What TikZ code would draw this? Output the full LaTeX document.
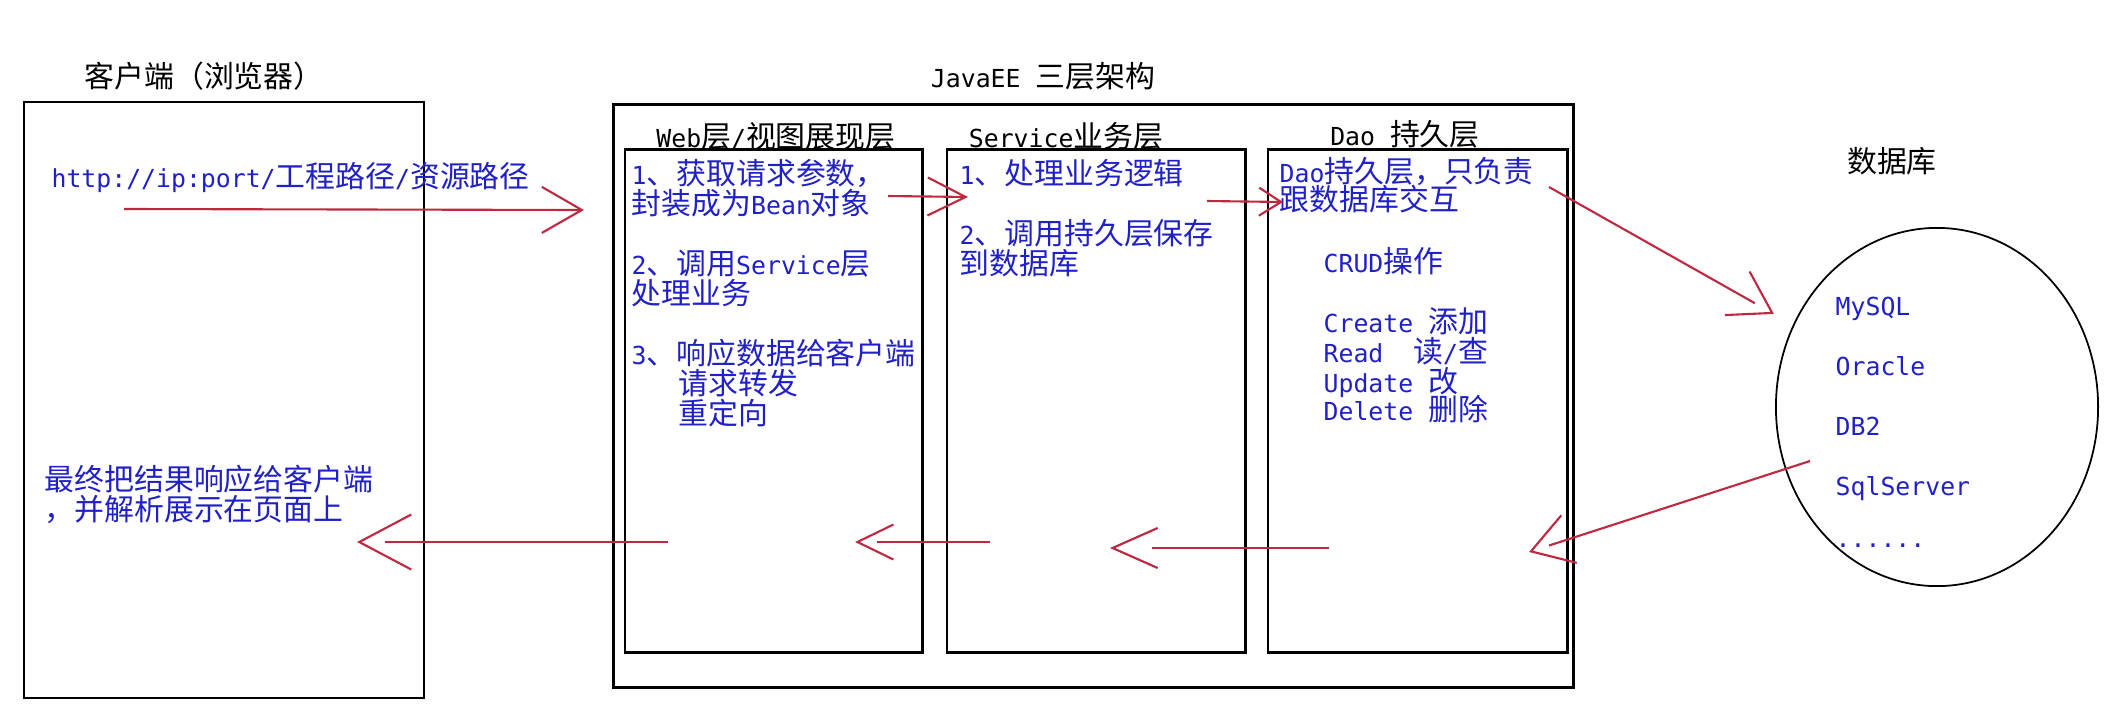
\documentclass[tikz,border=0pt]{standalone}
\usepackage{fontspec}
\setmainfont{Noto Sans CJK SC}
\setmonofont{DejaVu Sans Mono}[Scale=0.83]
\usepackage{tikz}
\usetikzlibrary{arrows.meta,shapes.geometric,decorations.markings}

\definecolor{inkblue}{RGB}{32,32,200}
\definecolor{linkred}{RGB}{192,40,64}

\begin{document}
\begin{tikzpicture}[x=0.01cm,y=-0.01cm]

  % Styles
  \tikzstyle{panel}=[draw,line width=0.8pt,inner sep=0pt,outer sep=0pt]
  \tikzstyle{title}=[anchor=base,inner sep=0pt,font=\fontsize{8.5pt}{8.5pt}\selectfont]
  \tikzstyle{memo}=[title,anchor=base west,text=inkblue]
  \tikzstyle{link}=[draw=linkred,line width=0.6pt]
  \tikzset{
    joined/.style 2 args={link,-{Straight Barb[length=#1,width=#2]}},
    loose/.style n args={3}{link,shorten >=#3,
      postaction={decorate,shorten >=0pt,decoration={markings,
        mark=at position 1 with {\arrow{Straight Barb[length=#1,width=#2]}}}}}
  }

  % \memo{<id>}{<text>}
  \newcommand{\memo}[2]{node[memo] (#1) {#2}}

  % ===========================================================================

  \useasboundingbox (0,0) rectangle (2119,706);

  % Draw boxes
  \node[panel,line width=0.6pt,minimum width=4cm,minimum height=5.96cm] (client) at (224,400) {};
  \node[panel,minimum width=9.59cm,minimum height=5.82cm] (javaee) at (1093.5,396) {};
  \node[panel,minimum width=2.97cm,minimum height=5.02cm] (web) at (773.5,401) {};
  \node[panel,minimum width=2.98cm,minimum height=5.02cm] (svc) at (1096,401) {};
  \node[panel,minimum width=2.99cm,minimum height=5.02cm] (dao) at (1417.5,401) {};
  \node[ellipse,draw,line width=0.5pt,inner sep=0pt,minimum width=3.22cm,minimum height=3.58cm] (db) at (1937,407) {};

  % Draw titles
  \path (client.north) +(-20,-14)   node[title] (clientT) {客户端（浏览器）};
  \path (javaee.north) +(-50.5,-17) node[title] (javaeeT) {\texttt{JavaEE~}三层架构};
  \path (web.north)    +(2.5,-2)    node[title] (webT)    {\texttt{Web}层\texttt{/}视图展现层};
  \path (svc.north)    +(-30,-2)    node[title] (svcT)    {\texttt{Service}业务层};
  \path (dao.north)    +(-12.5,-4)  node[title] (daoT)    {\texttt{Dao~}持久层};
  \path (db.north)     +(-45,-55)   node[title] (dbT)     {数据库};

  % Draw notes
  \path (client.north west) +(27,86)  \memo{url}{\texttt{http://ip:port/}工程路径\texttt{/}资源路径};
  \path (client.north west) +(20,389) \memo{show1}{最终把结果响应给客户端};
  \path (client.north west) +(20,419) \memo{show2}{，并解析展示在页面上};

  \path (web.north west) +(6,35)   \memo{web1}{\texttt{1}、获取请求参数，};
  \path (web.north west) +(6,65)   \memo{web2}{封装成为\texttt{Bean}对象};
  \path (web.north west) +(6,125)  \memo{web3}{\texttt{2}、调用\texttt{Service}层};
  \path (web.north west) +(6,155)  \memo{web4}{处理业务};
  \path (web.north west) +(6,215)  \memo{web5}{\texttt{3}、响应数据给客户端};
  \path (web.north west) +(53,245) \memo{web6}{请求转发};
  \path (web.north west) +(53,275) \memo{web7}{重定向};

  \path (svc.north west) +(12,35)  \memo{svc1}{\texttt{1}、处理业务逻辑};
  \path (svc.north west) +(12,95)  \memo{svc2}{\texttt{2}、调用持久层保存};
  \path (svc.north west) +(12,125) \memo{svc3}{到数据库};

  \path (dao.north west) +(11,33)  \memo{dao1}{\texttt{Dao}持久层，只负责};
  \path (dao.north west) +(11,61)  \memo{dao2}{跟数据库交互};
  \path (dao.north west) +(55,123) \memo{dao3}{\texttt{CRUD}操作};
  \path (dao.north west) +(55,183) \memo{dao4}{\texttt{Create~}添加};
  \path (dao.north west) +(55,213) \memo{dao5}{\texttt{Read~~}读\texttt{/}查};
  \path (dao.north west) +(55,243) \memo{dao6}{\texttt{Update~}改};
  \path (dao.north west) +(55,271) \memo{dao7}{\texttt{Delete~}删除};

  \path (db.center) +(-102,-92) \memo{mysql}{\texttt{MySQL}};
  \path (db.center) +(-102,-32) \memo{oracle}{\texttt{Oracle}};
  \path (db.center) +(-102,28)  \memo{db2}{\texttt{DB2}};
  \path (db.center) +(-102,88)  \memo{sqlsrv}{\texttt{SqlServer}};
  \path (db.center) +(-102,140) \memo{more}{\texttt{......}};

  % Arrow ends
  \coordinate (reqS) at (124,209);  \coordinate (reqE) at (584,210);
  \coordinate (webS) at (888,196);  \coordinate (webE) at (968,197);
  \coordinate (svcS) at (1207,201); \coordinate (svcE) at (1283,202);
  \coordinate (daoS) at (1549,187); \coordinate (daoE) at (1774,314);
  \coordinate (dbS)  at (1810,461); \coordinate (dbE)  at (1529,552);
  \coordinate (r1S)  at (1329,548); \coordinate (r1E)  at (1110,548);
  \coordinate (r2S)  at (990,542);  \coordinate (r2E)  at (855,542);
  \coordinate (r3S)  at (668,542);  \coordinate (r3E)  at (357,542);

  % Draw arrows
  \draw[joined={0.40cm}{0.46cm}] (reqS) -- (reqE);
  \draw[joined={0.38cm}{0.38cm}] (webS) -- (webE);
  \draw[joined={0.22cm}{0.28cm}] (svcS) -- (svcE);
  \draw[loose={0.40cm}{0.50cm}{0.22cm}] (daoS) -- (daoE);
  \draw[loose={0.40cm}{0.50cm}{0.21cm}] (dbS) -- (dbE);
  \draw[loose={0.45cm}{0.40cm}{0.42cm}] (r1S) -- (r1E);
  \draw[loose={0.36cm}{0.35cm}{0.22cm}] (r2S) -- (r2E);
  \draw[loose={0.52cm}{0.55cm}{0.28cm}] (r3S) -- (r3E);

\end{tikzpicture}
\end{document}
